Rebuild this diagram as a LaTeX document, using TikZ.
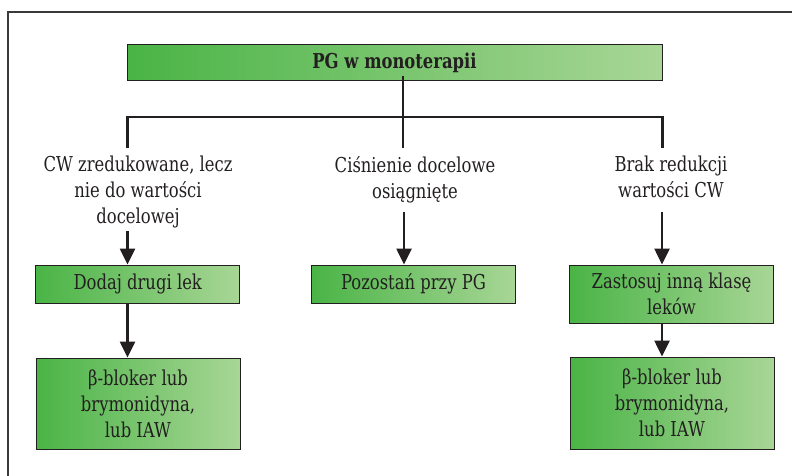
\documentclass[tikz,border=0pt]{standalone}
\usepackage{fontspec}
\setmainfont{DejaVu Serif}[FakeStretch=0.8]
\usetikzlibrary{arrows.meta}
\definecolor{ink}{HTML}{231F20}
\definecolor{greenL}{HTML}{4AB446}
\definecolor{greenR}{HTML}{A8D696}
\definecolor{framegray}{HTML}{3A3A3A}

\begin{document}
\begin{tikzpicture}[x=1pt,y=-1pt,
  every node/.style={font=\fontsize{20.5}{26}\selectfont, text=ink},
  greenbox/.style={draw=ink, line width=1pt, left color=greenL, right color=greenR,
    minimum width=204pt, inner sep=0pt, align=center},
  caption/.style={align=center, inner sep=0pt, anchor=north},
  link/.style={draw=ink, line width=2.6pt},
  flow/.style={link, -{Triangle[length=16pt,width=15pt]}}]

\useasboundingbox (0,0) rectangle (792,476);

% outer frame, only its top and left edges fall inside the page
\begin{scope}
  \clip (0,0) rectangle (792,476);
  \draw[framegray, line width=1.3pt] (8,12) rectangle (830,520);
\end{scope}

% title
\node[greenbox, minimum width=535pt, minimum height=36pt,
      font=\bfseries\fontsize{20.5}{26}\selectfont] (top) at (394.5,63) {PG w monoterapii};

% branch captions
\node[caption] (lab1) at (138,156) {CW zredukowane, lecz\\nie do wartości\\docelowej};
\node[caption] (lab2) at (415,156) {Ciśnienie docelowe\\osiągnięte};
\node[caption] (lab3) at (671,156) {Brak redukcji\\wartości CW};

% decision boxes
\node[greenbox, minimum height=38pt] (add) at (137.75,284) {Dodaj drugi lek};
\node[greenbox, minimum height=38pt] (stay) at (413.5,284) {Pozostań przy PG};
\node[greenbox, minimum height=58pt] (switch) at (671.5,294) {Zastosuj inną klasę\\leków};
\node[greenbox, minimum height=91pt] (optL) at (138,403.5) {β-bloker lub\\brymonidyna,\\lub IAW};
\node[greenbox, minimum height=92pt] (optR) at (672,403) {β-bloker lub\\brymonidyna,\\lub IAW};

% connector geometry
\coordinate (hub) at (403,117);
\coordinate (dropEnd) at (0,148);
\coordinate (colL) at (127.5,0);
\coordinate (colR) at (662.5,0);
\coordinate (armL) at (127.5,231);
\coordinate (armM) at (404,212);
\coordinate (armR) at (662,212);

% tree from the title to the three branches
\draw[link] ([yshift=5pt]top.south -| hub) -- (hub);
\draw[link, line join=miter] (colL |- dropEnd) -- (colL |- hub) -- (colR |- hub) -- (colR |- dropEnd);
\draw[link] (hub) -- (hub |- dropEnd);

% arrows into the boxes
\draw[flow] (armL) -- (armL |- add.north);
\draw[flow] (armM) -- (armM |- stay.north);
\draw[flow] (armR) -- (armR |- switch.north);
\draw[flow] (add.south -| armL) -- (optL.north -| armL);
\draw[flow] (switch.south -| armR) -- (optR.north -| armR);
\end{tikzpicture}
\end{document}
